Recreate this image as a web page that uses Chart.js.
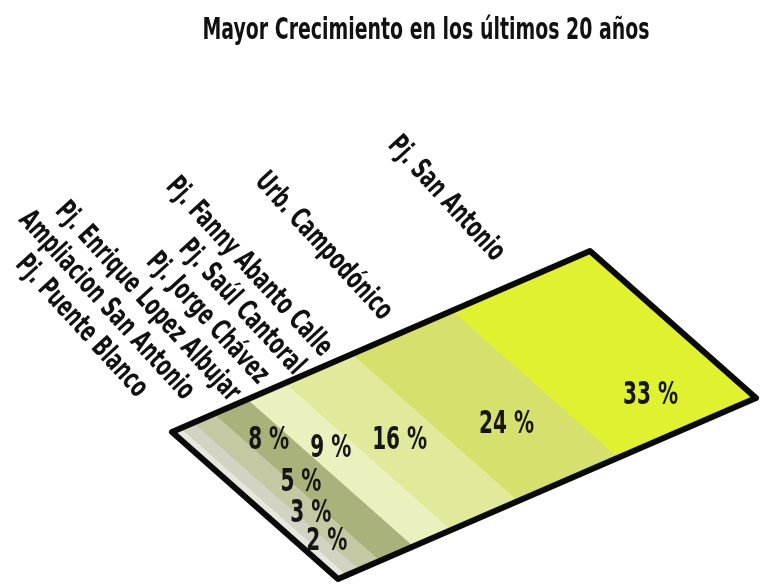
<!DOCTYPE html>
<html><head><meta charset="utf-8">
<script src="https://cdn.jsdelivr.net/npm/chart.js@4.4.0/dist/chart.umd.min.js"></script>
<style>html,body{margin:0;padding:0;background:#fff}#wrap{width:765px;height:585px;position:relative}</style>
</head><body><div id="wrap"><canvas id="c" width="765" height="585"></canvas></div>
<script>
// ---- data ----
const titleText = 'Mayor Crecimiento en los últimos 20 años';
const categories = ['Pj. Puente Blanco','Ampliacion San Antonio','Pj. Enrique Lopez Albujar','Pj. Jorge Chávez','Pj. Saúl Cantoral','Pj. Fanny Abanto Calle','Urb. Campodónico','Pj. San Antonio'];
const values = [2, 3, 5, 8, 9, 16, 24, 33];
const valueLabels = values.map(v => v + ' %');

// ---- style / layout ----
const colors = ['#e7e8dd','#d2d3c2','#c4c8a3','#aab27c','#ecf0bf','#e2e99b','#d6e06c','#e0f12f'];
const labelDepth = [0.76, 0.60, 0.44, 0.23, 0.39, 0.49, 0.63, 0.78]; // fraction across the band
const catGap = [50, 28, 7, 12, 6, 12, 22, 32];                         // distance of name from the edge
const SHAPE = {ox:172, oy:432, ux:418, uy:-181, vx:166, vy:147};       // parallelogram frame
const FONT_STACK = "'Liberation Sans Narrow','Arial Narrow','DejaVu Sans Condensed','Liberation Sans',sans-serif";
const ANG = 47.5 * Math.PI / 180;
const MIN_SEP = 0.076;
const TITLE_FONT = 31, CAT_FONT = 29, VAL_FONT = 32;

function matrix(chart){
  const ca = chart.chartArea;
  const w = ca.right - ca.left, h = ca.bottom - ca.top;
  const a = SHAPE.ux / w, b = SHAPE.uy / w, c = SHAPE.vx / h, d = SHAPE.vy / h;
  return {a, b, c, d, e: SHAPE.ox - a*ca.left - c*ca.top, f: SHAPE.oy - b*ca.left - d*ca.top, w, h, ca};
}
function map(m, px, py){ return [m.a*px + m.c*py + m.e, m.b*px + m.d*py + m.f]; }

function fit(ctx, size, sample, target){
  ctx.save();
  ctx.font = 'bold ' + size + 'px ' + FONT_STACK;
  const wd = ctx.measureText(sample).width;
  ctx.restore();
  return Math.min(1, target / wd);
}

const skew = {
  id: 'skew',
  beforeDatasetsDraw(chart){
    const m = matrix(chart);
    chart.ctx.save();
    chart.ctx.transform(m.a, m.b, m.c, m.d, m.e, m.f);
  },
  afterDatasetsDraw(chart){
    const ctx = chart.ctx;
    ctx.restore();
    const m = matrix(chart), ca = m.ca;
    const kTitle = fit(ctx, TITLE_FONT, titleText, 447);
    const kCat = fit(ctx, CAT_FONT, 'Pj. San Antonio', 158);
    const kVal = fit(ctx, VAL_FONT, '33 %', 55);

    // frame
    const p = [map(m, ca.left, ca.top), map(m, ca.right, ca.top), map(m, ca.right, ca.bottom), map(m, ca.left, ca.bottom)];
    ctx.save();
    ctx.beginPath();
    ctx.moveTo(p[0][0], p[0][1]);
    for (let i = 1; i < 4; i++) ctx.lineTo(p[i][0], p[i][1]);
    ctx.closePath();
    ctx.lineWidth = 6;
    ctx.lineJoin = 'round';
    ctx.strokeStyle = '#0a0a0a';
    ctx.stroke();
    ctx.restore();

    // band centres and widths (fraction along the long side)
    const bands = categories.map((_, i) => {
      const el = chart.getDatasetMeta(i).data[0];
      const pr = el.getProps(['x', 'base'], true);
      return {c: ((pr.x + pr.base) / 2 - ca.left) / m.w, span: Math.abs(pr.x - pr.base) / m.w};
    });
    const crossScale = SHAPE.ux - SHAPE.uy * SHAPE.vx / SHAPE.vy; // horizontal px per unit along the long side

    // value labels
    ctx.save();
    ctx.fillStyle = '#161616';
    ctx.font = 'bold ' + VAL_FONT + 'px ' + FONT_STACK;
    ctx.textBaseline = 'middle';
    valueLabels.forEach((t, i) => {
      const [x, y] = map(m, ca.left + bands[i].c*m.w, ca.top + labelDepth[i]*m.h);
      const tw = ctx.measureText(t).width * kVal;
      const narrow = bands[i].span * crossScale < tw;
      ctx.save();
      ctx.translate(narrow ? x + 4 : x, y);
      ctx.scale(kVal, 1);
      ctx.textAlign = narrow ? 'left' : 'center';
      ctx.fillText(t, 0, 0);
      ctx.restore();
    });
    ctx.restore();

    // category names, spread so they do not overlap
    const s = [];
    bands.forEach((b, i) => { s.push(i === 0 ? b.c : Math.max(b.c, s[i-1] + MIN_SEP)); });
    ctx.save();
    ctx.fillStyle = '#111';
    ctx.font = 'bold ' + CAT_FONT + 'px ' + FONT_STACK;
    ctx.textAlign = 'right';
    ctx.textBaseline = 'middle';
    categories.forEach((name, i) => {
      let [x, y] = map(m, ca.left + s[i]*m.w, ca.top);
      x -= catGap[i] * Math.cos(ANG);
      y -= catGap[i] * Math.sin(ANG);
      ctx.save();
      ctx.translate(x, y);
      ctx.rotate(ANG);
      ctx.scale(kCat, 1);
      ctx.fillText(name, 0, 0);
      ctx.restore();
    });
    ctx.restore();

    // title
    ctx.save();
    ctx.fillStyle = '#111';
    ctx.font = 'bold ' + TITLE_FONT + 'px ' + FONT_STACK;
    ctx.textAlign = 'center';
    ctx.textBaseline = 'alphabetic';
    ctx.translate(426, 39);
    ctx.scale(kTitle, 1);
    ctx.fillText(titleText, 0, 0);
    ctx.restore();
  }
};

new Chart(document.getElementById('c'), {
  type: 'bar',
  data: {
    labels: ['Crecimiento'],
    datasets: categories.map((c, i) => ({
      label: c, data: [values[i]], backgroundColor: colors[i],
      borderWidth: 0, barPercentage: 1, categoryPercentage: 1
    }))
  },
  options: {
    indexAxis: 'y', responsive: false, animation: false, events: [],
    layout: {padding: 0},
    scales: {
      x: {stacked: true, min: 0, max: 100, display: false},
      y: {stacked: true, display: false}
    },
    plugins: {legend: {display: false}, tooltip: {enabled: false}, title: {display: false}}
  },
  plugins: [skew]
});
</script>
</body></html>
